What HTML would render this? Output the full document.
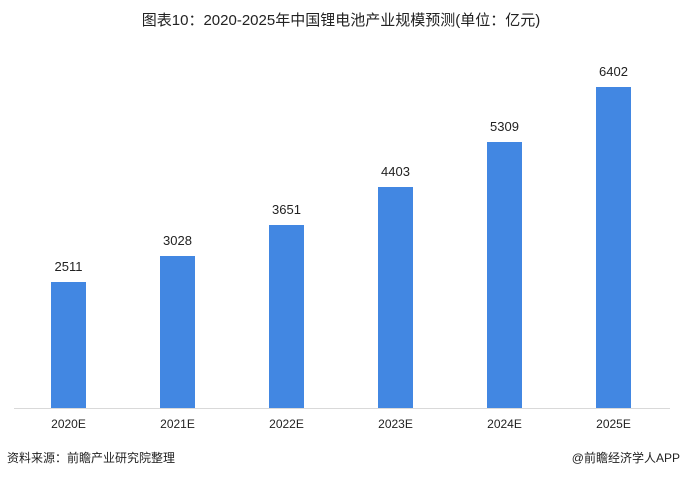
<!DOCTYPE html>
<html><head><meta charset="utf-8"><style>
body{margin:0;width:682px;height:478px;background:#fff;overflow:hidden;font-family:"Liberation Sans","Noto Sans CJK SC",sans-serif;}
</style></head><body>
<svg width="682" height="478" xmlns="http://www.w3.org/2000/svg" style="font-family:'Liberation Sans','Noto Sans CJK SC',sans-serif">
<text x="341" y="25" font-size="15" text-anchor="middle" fill="#222">图表10：2020-2025年中国锂电池产业规模预测(单位：亿元)</text>
<line x1="14" y1="408.5" x2="670" y2="408.5" stroke="#d9d9d9" stroke-width="1"/>
<g fill="#4287e2">
<rect x="51" y="282" width="35" height="126"/>
<rect x="160" y="256" width="35" height="152"/>
<rect x="269" y="225" width="35" height="183"/>
<rect x="378" y="187" width="35" height="221"/>
<rect x="487" y="142" width="35" height="266"/>
<rect x="596" y="87" width="35" height="321"/>
</g>
<g font-size="13" text-anchor="middle" fill="#222">
<text x="68.5" y="271">2511</text>
<text x="177.5" y="245">3028</text>
<text x="286.5" y="214">3651</text>
<text x="395.5" y="176">4403</text>
<text x="504.5" y="131">5309</text>
<text x="613.5" y="76">6402</text>
</g>
<g font-size="12" text-anchor="middle" fill="#222">
<text x="68.5" y="428">2020E</text>
<text x="177.5" y="428">2021E</text>
<text x="286.5" y="428">2022E</text>
<text x="395.5" y="428">2023E</text>
<text x="504.5" y="428">2024E</text>
<text x="613.5" y="428">2025E</text>
</g>
<text x="7" y="462" font-size="12" fill="#222">资料来源：前瞻产业研究院整理</text>
<text x="680" y="462" font-size="12" fill="#222" text-anchor="end">@前瞻经济学人APP</text>
</svg>
</body></html>
